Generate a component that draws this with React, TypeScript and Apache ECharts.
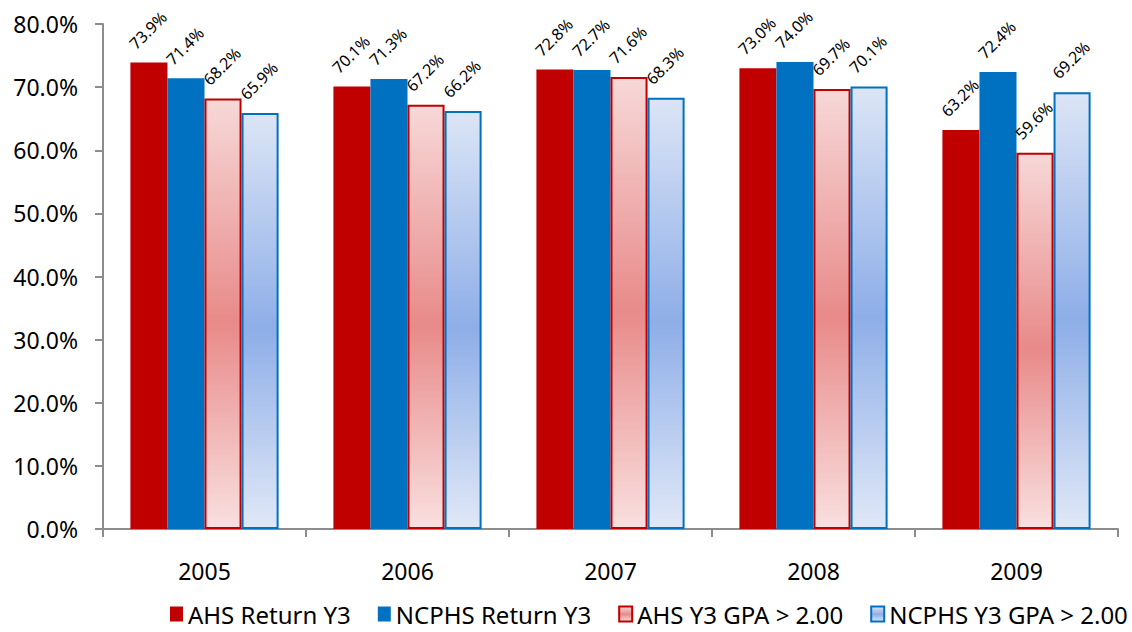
import React, { useEffect, useRef } from "react";
import * as echarts from "echarts";

const categories = ["2005", "2006", "2007", "2008", "2009"];
const ahsReturn = [73.9, 70.1, 72.8, 73.0, 63.2];
const ncphsReturn = [71.4, 71.3, 72.7, 74.0, 72.4];
const ahsGpa = [68.2, 67.2, 71.6, 69.7, 59.6];
const ncphsGpa = [65.9, 66.2, 68.3, 70.1, 69.2];
const seriesNames = ["AHS Return Y3", "NCPHS Return Y3", "AHS Y3 GPA > 2.00", "NCPHS Y3 GPA > 2.00"];

const FONT = "Noto Sans";

function grad(top: string, mid: string, bottom: string) {
  return new echarts.graphic.LinearGradient(0, 0, 0, 1, [
    { offset: 0, color: top },
    { offset: 0.52, color: mid },
    { offset: 1, color: bottom },
  ]);
}

export default function App() {
  const ref = useRef<HTMLDivElement>(null);
  useEffect(() => {
    if (!ref.current) return;
    const chart = echarts.init(ref.current, undefined, { renderer: "svg" });
    const label = {
      show: true,
      position: "top",
      rotate: 45,
      align: "left",
      verticalAlign: "middle",
      offset: [-4, -20],
      fontFamily: FONT,
      fontSize: 16,
      color: "#000",
      formatter: (p: any) => p.value.toFixed(1) + "%",
    };
    const mk = (name: string, data: number[], itemStyle: any) => ({
      name,
      type: "bar",
      data,
      barGap: "0%",
      barCategoryGap: "27%",
      itemStyle,
      label,
    });
    chart.setOption({
      animation: false,
      grid: { left: 103, right: 14, top: 24, bottom: 103 },
      legend: {
        top: 597,
        left: 165,
        width: 1000,
        itemWidth: 13,
        itemHeight: 15,
        itemGap: 27,
        icon: "rect",
        textStyle: { fontFamily: FONT, fontSize: 24, color: "#000" },
        data: seriesNames,
      },
      xAxis: {
        type: "category",
        data: categories,
        axisLine: { lineStyle: { color: "#8c8c8c", width: 2 } },
        axisTick: { show: true, length: 8, lineStyle: { color: "#8c8c8c", width: 2 } },
        axisLabel: { fontFamily: FONT, fontSize: 23, color: "#000", margin: 30 },
      },
      yAxis: {
        type: "value",
        min: 0,
        max: 80,
        interval: 10,
        splitLine: { show: false },
        axisLine: { show: true, lineStyle: { color: "#8c8c8c", width: 2 } },
        axisTick: { show: true, length: 8, lineStyle: { color: "#8c8c8c", width: 2 } },
        axisLabel: {
          fontFamily: FONT,
          fontSize: 23,
          color: "#000",
          margin: 25,
          formatter: (v: number) => v.toFixed(1) + "%",
        },
      },
      series: [
        mk(seriesNames[0], ahsReturn, { color: "#c00000" }),
        mk(seriesNames[1], ncphsReturn, { color: "#0070c0" }),
        mk(seriesNames[2], ahsGpa, {
          color: grad("#f7d8d8", "#e88a89", "#f9dfdf"),
          borderColor: "#c00000",
          borderWidth: 2,
        }),
        mk(seriesNames[3], ncphsGpa, {
          color: grad("#dce5f6", "#8eaee8", "#e0e8f7"),
          borderColor: "#0070c0",
          borderWidth: 2,
        }),
      ],
    });
    return () => chart.dispose();
  }, []);
  return (
    <div
      ref={ref}
      style={{ position: "absolute", left: 0, top: 0, width: 1132, height: 632 }}
    />
  );
}
